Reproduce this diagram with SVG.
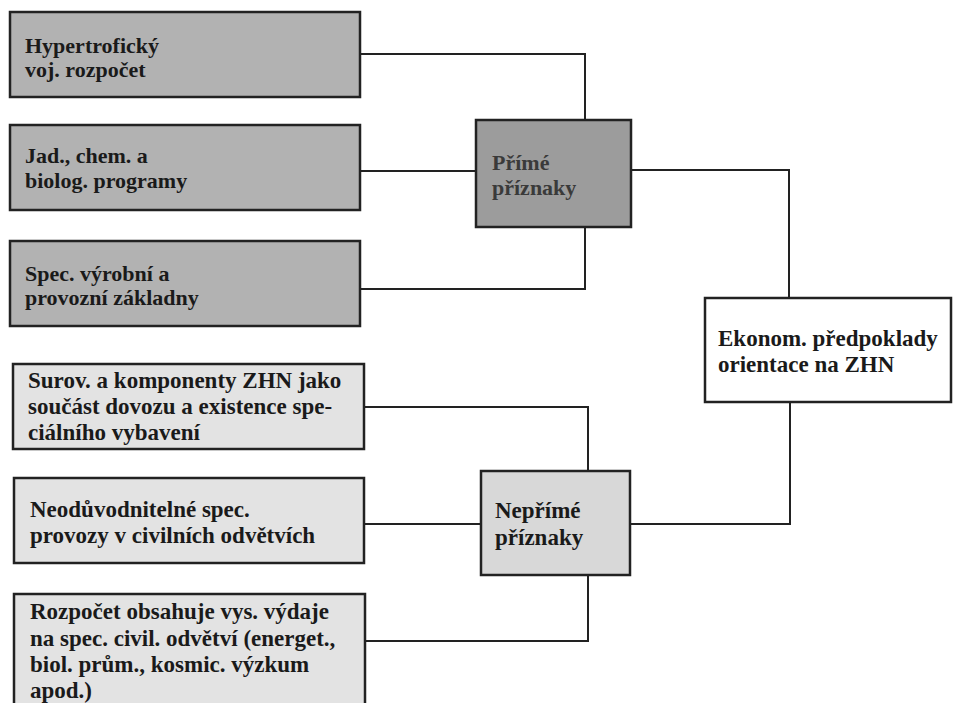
<svg xmlns="http://www.w3.org/2000/svg" width="953" height="703" viewBox="0 0 953 703">
<style>
.box{stroke:#222;stroke-width:2.5}
.dark{fill:#b2b2b2}
.darker{fill:#9c9c9c}
.light{fill:#e3e3e3}
.lighter{fill:#d8d8d8}
.white{fill:#fff}
text{font-family:"Liberation Serif","Times New Roman",serif;font-weight:bold;font-size:23px;fill:#1a1a1a}
.t22{font-size:22px}
.dim{fill:#3a3a3a}
.conn{fill:none;stroke:#222;stroke-width:2}
</style>
<rect width="953" height="703" fill="#fff"/>
<g id="connectors">
<path class="conn" d="M360,54 H585 V120"/>
<path class="conn" d="M360,171 H476"/>
<path class="conn" d="M360,289 H585 V227"/>
<path class="conn" d="M631,170 H789 V298"/>
<path class="conn" d="M364,407 H588 V471"/>
<path class="conn" d="M364,524 H481"/>
<path class="conn" d="M365,641 H588 V575"/>
<path class="conn" d="M630,524 H790 V402"/>
</g>
<g id="n1">
<rect class="box dark" x="10" y="12" width="350" height="85"/>
<text class="t22" x="25" y="53">Hypertrofický</text>
<text class="t22" x="25" y="77">voj. rozpočet</text>
</g>
<g id="n2">
<rect class="box dark" x="10" y="125" width="350" height="85"/>
<text class="t22" x="25" y="163">Jad., chem. a</text>
<text class="t22" x="25" y="188">biolog. programy</text>
</g>
<g id="n3">
<rect class="box dark" x="10" y="241" width="350" height="85"/>
<text class="t22" x="25" y="281">Spec. výrobní a</text>
<text class="t22" x="25" y="305">provozní základny</text>
</g>
<g id="n4">
<rect class="box light" x="13" y="364" width="351" height="85"/>
<text x="28" y="388">Surov. a komponenty ZHN jako</text>
<text x="28" y="414">součást dovozu a existence spe-</text>
<text x="28" y="440">ciálního vybavení</text>
</g>
<g id="n5">
<rect class="box light" x="14" y="478" width="350" height="85"/>
<text x="30" y="517">Neodůvodnitelné spec.</text>
<text x="30" y="543">provozy v civilních odvětvích</text>
</g>
<g id="n6">
<rect class="box light" x="14" y="594" width="351" height="125"/>
<text x="30" y="619">Rozpočet obsahuje vys. výdaje</text>
<text x="30" y="646">na spec. civil. odvětví (energet.,</text>
<text x="30" y="672">biol. prům., kosmic. výzkum</text>
<text x="30" y="698">apod.)</text>
</g>
<g id="n7">
<rect class="box darker" x="476" y="120" width="155" height="107"/>
<text class="t22 dim" x="492" y="170">Přímé</text>
<text class="t22 dim" x="492" y="195">příznaky</text>
</g>
<g id="n8">
<rect class="box lighter" x="481" y="471" width="149" height="104"/>
<text x="495" y="518">Nepřímé</text>
<text x="495" y="545">příznaky</text>
</g>
<g id="n9">
<rect class="box white" x="705" y="298" width="246" height="104"/>
<text x="718" y="346">Ekonom. předpoklady</text>
<text x="718" y="372">orientace na ZHN</text>
</g>
</svg>
